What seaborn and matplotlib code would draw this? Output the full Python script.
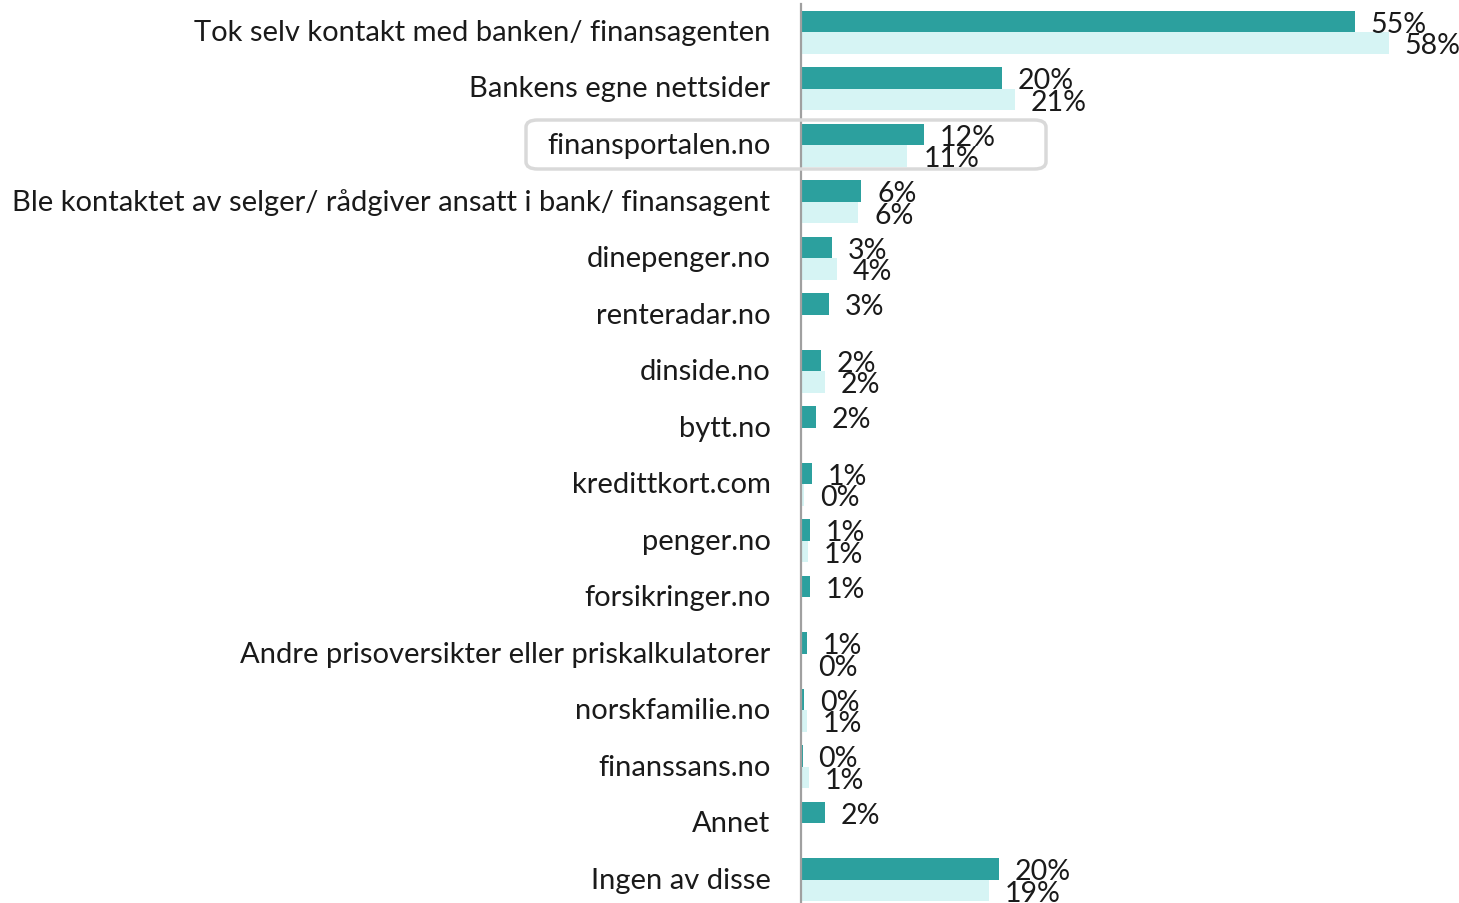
import numpy as np
import pandas as pd
import matplotlib.pyplot as plt
import matplotlib.transforms as mtransforms
import seaborn as sns
from matplotlib.patches import FancyBboxPatch

categories = [
    'Tok selv kontakt med banken/ finansagenten',
    'Bankens egne nettsider',
    'finansportalen.no',
    'Ble kontaktet av selger/ rådgiver ansatt i bank/ finansagent',
    'dinepenger.no',
    'renteradar.no',
    'dinside.no',
    'bytt.no',
    'kredittkort.com',
    'penger.no',
    'forsikringer.no',
    'Andre prisoversikter eller priskalkulatorer',
    'norskfamilie.no',
    'finanssans.no',
    'Annet',
    'Ingen av disse',
]
series_names = ['A', 'B']
values_a = [55.1, 20.0, 12.2, 6.0, 3.1, 2.8, 2.0, 1.5, 1.1, 0.9, 0.85, 0.6, 0.3, 0.15, 2.4, 19.7]
values_b = [58.5, 21.3, 10.6, 5.7, 3.6, np.nan, 2.4, np.nan, 0.3, 0.7, np.nan, 0.1, 0.6, 0.8, np.nan, 18.7]
colors = ['#2ca09e', '#d6f4f4']

df = pd.DataFrame({
    'cat': categories * 2,
    'serie': [series_names[0]] * len(categories) + [series_names[1]] * len(categories),
    'val': values_a + values_b,
})

plt.rcParams['font.family'] = ['Lato', 'DejaVu Sans']
fig = plt.figure(figsize=(14.59, 9.04), dpi=100)
ax = fig.add_axes([801 / 1459, 0, 1 - 801 / 1459, 1 - 5 / 904])

sns.barplot(data=df, y='cat', x='val', hue='serie', orient='h',
            palette=colors, width=0.76, dodge=True, ax=ax, legend=False,
            errorbar=None, saturation=1)

# value labels
for cont in ax.containers:
    for bar in cont:
        w = bar.get_width()
        if np.isnan(w):
            continue
        yc = bar.get_y() + bar.get_height() / 2
        ax.annotate(f'{w:.0f}%', xy=(w, yc), xytext=(11.5, -1.5),
                    textcoords='offset points', ha='left', va='center',
                    fontsize=20.5, color='#1a1a1a')

ax.set_xlim(0, 65.5)
ax.set_ylim(15.41, -0.5)
ax.set_xlabel('')
ax.set_ylabel('')
ax.set_xticks([])
ax.tick_params(axis='y', length=0, pad=22, labelsize=21, labelcolor='#1a1a1a')
# nudge category labels up a little
shift = mtransforms.ScaledTranslation(0, 2 / 72, fig.dpi_scale_trans)
for lbl in ax.get_yticklabels():
    lbl.set_transform(lbl.get_transform() + shift)
for s in ['top', 'right', 'bottom']:
    ax.spines[s].set_visible(False)
ax.spines['left'].set_color('#a0a0a0')
ax.spines['left'].set_linewidth(1.6)

# highlight box around finansportalen.no
box = FancyBboxPatch((526 / 1459, 1 - 170 / 904), (1046 - 526) / 1459, (170 - 121) / 904,
                     boxstyle='round,pad=0,rounding_size=0.008',
                     transform=fig.transFigure, fill=False,
                     edgecolor='#d9d9d9', linewidth=2.5, clip_on=False)
fig.patches.append(box)

fig.savefig('out.png', dpi=100)
